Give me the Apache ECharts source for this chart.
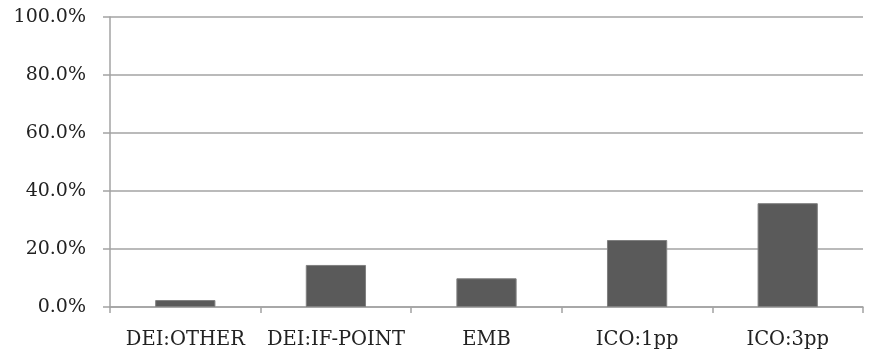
<!DOCTYPE html>
<html>
<head>
<meta charset="utf-8">
<script src="https://cdn.jsdelivr.net/npm/echarts@6/dist/echarts.min.js"></script>
<style>
  html, body { margin: 0; padding: 0; background: #fff; }
  #chart { width: 873px; height: 354px; }
</style>
</head>
<body>
<div id="chart"></div>
<script>
// Share of cases per category (percent)
const categories = ['DEI:OTHER', 'DEI:IF-POINT', 'EMB', 'ICO:1pp', 'ICO:3pp'];
const shares = [2.4, 14.5, 9.9, 23.1, 35.8];

const FONT = 'DejaVu Serif';
const LINE = '#a3a3a3';

const chart = echarts.init(document.getElementById('chart'));
chart.setOption({
  animation: false,
  grid: { left: 110, right: 10, top: 17, bottom: 47 },
  xAxis: {
    type: 'category',
    data: categories,
    axisLine: { lineStyle: { color: LINE, width: 1.5 } },
    axisTick: { show: true, interval: 0, length: 6, alignWithLabel: false, lineStyle: { color: LINE, width: 1.5 } },
    axisLabel: { interval: 0, color: '#222', fontFamily: FONT, fontSize: 19.5, margin: 23 }
  },
  yAxis: {
    type: 'value',
    min: 0,
    max: 100,
    interval: 20,
    axisLine: { show: true, lineStyle: { color: LINE, width: 1.5 } },
    axisTick: { show: true, length: 7, lineStyle: { color: LINE, width: 1.5 } },
    splitLine: { lineStyle: { color: LINE, width: 1.5 } },
    axisLabel: {
      color: '#222', fontFamily: FONT, fontSize: 19, margin: 24,
      formatter: v => v.toFixed(1) + '%'
    }
  },
  series: [{
    type: 'bar',
    data: shares,
    barWidth: '40%',
    itemStyle: { color: '#5a5a5a', borderColor: '#808080', borderWidth: 1 }
  }]
});
</script>
</body>
</html>
